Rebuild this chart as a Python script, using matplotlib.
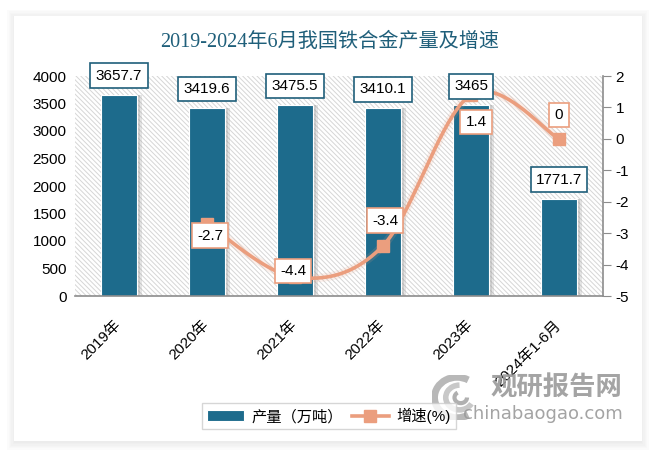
import matplotlib
matplotlib.use("Agg")
import matplotlib.pyplot as plt
import numpy as np
from matplotlib.patches import Rectangle, Arc

plt.rcParams['font.family'] = ['Liberation Sans', 'Noto Sans CJK SC', 'DejaVu Sans']
plt.rcParams['axes.unicode_minus'] = False
plt.rcParams['hatch.linewidth'] = 0.7
plt.rcParams['hatch.color'] = '#d6d6d6'

categories = ['2019年', '2020年', '2021年', '2022年', '2023年', '2024年1-6月']
output = [3657.7, 3419.6, 3475.5, 3410.1, 3465, 1771.7]
growth = [None, -2.7, -4.4, -3.4, 1.4, 0]
output_labels = ['3657.7', '3419.6', '3475.5', '3410.1', '3465', '1771.7']
growth_labels = [None, '-2.7', '-4.4', '-3.4', '1.4', '0']
title = '2019-2024年6月我国铁合金产量及增速'

BAR = '#1d6b8c'
LINE = '#eb9e7e'
DARK = '#1f5f7a'

fig = plt.figure(figsize=(6.59, 4.58), dpi=100)
fig.patch.set_facecolor('white')

# card shadow + card
for k in range(6):
    fig.patches.append(Rectangle((14/659 - k*0.002, 1 - 442/458 - k*0.003 - 0.002),
                                 (628/659) + k*0.004, (426/458) + k*0.006,
                                 transform=fig.transFigure, facecolor='#c8c8c8',
                                 alpha=0.06, edgecolor='none', zorder=-10))
fig.patches.append(Rectangle((14/659, 1 - 441/458), 628/659, 425/458,
                             transform=fig.transFigure, facecolor='white',
                             edgecolor='none', zorder=-9))

ax = fig.add_axes([75/659, 1 - 296/458, 528/659, 220/458])
ax.set_facecolor('none')
ax.add_patch(Rectangle((0, 0), 1, 1, transform=ax.transAxes, facecolor='white',
                       hatch='\\' * 7, edgecolor='#d6d6d6', lw=0, zorder=0))

x = np.arange(len(categories))
w = 0.42
# bar shadows
ax.bar(x + 0.05, output, width=w, color='#9a9a9a', alpha=0.25, zorder=1, linewidth=0)
ax.bar(x + 0.025, output, width=w, color='#9a9a9a', alpha=0.3, zorder=1, linewidth=0)
ax.bar(x, output, width=w, color=BAR, edgecolor='white', linewidth=0.8, zorder=2,
       label='产量（万吨）')

ax.set_xlim(-0.5, len(categories) - 0.5)
ax.set_ylim(0, 4000)
ax.set_yticks(np.arange(0, 4001, 500))
ax.tick_params(axis='y', length=0, labelsize=11, pad=6)
ax.tick_params(axis='x', length=0, pad=10)
ax.set_xticks(x)
ax.set_xticklabels(categories, rotation=45, ha='right', va='center',
                   rotation_mode='anchor', fontsize=11)
for lab in ax.get_xticklabels():
    lab.set_y(-0.06)
for s in ['top', 'left', 'right']:
    ax.spines[s].set_visible(False)
ax.spines['bottom'].set_color('#8c8c8c')
ax.spines['bottom'].set_linewidth(1.2)

ax2 = ax.twinx()
ax2.set_ylim(-5, 2)
ax2.set_yticks(np.arange(-5, 3, 1))
ax2.tick_params(axis='y', length=6, color='#8c8c8c', labelsize=11, pad=3, direction='out')
for s in ['top', 'left', 'bottom']:
    ax2.spines[s].set_visible(False)
ax2.spines['right'].set_color('#8c8c8c')
ax2.spines['right'].set_linewidth(1.2)

# smooth line (uniform Catmull-Rom through the points, like Excel smoothing)
gx = np.array([i for i, g in enumerate(growth) if g is not None], dtype=float)
gy = np.array([g for g in growth if g is not None], dtype=float)
P = np.column_stack([gx, gy])
pts = []
n = len(P)
for i in range(n - 1):
    p0 = P[i - 1] if i > 0 else P[i]
    p1, p2 = P[i], P[i + 1]
    p3 = P[i + 2] if i + 2 < n else P[i + 1]
    c1 = p1 + (p2 - p0) / 6
    c2 = p2 - (p3 - p1) / 6
    t = np.linspace(0, 1, 40)[:, None]
    seg = (1 - t) ** 3 * p1 + 3 * (1 - t) ** 2 * t * c1 + 3 * (1 - t) * t ** 2 * c2 + t ** 3 * p2
    pts.append(seg if i == 0 else seg[1:])
curve = np.vstack(pts)
ax2.plot(curve[:, 0], curve[:, 1], color=LINE, lw=6, alpha=0.15, zorder=3, solid_capstyle='round')
ax2.plot(curve[:, 0], curve[:, 1], color=LINE, lw=2.6, zorder=4)
ax2.plot(gx, gy, linestyle='none', marker='s', markersize=9, color=LINE, zorder=5)
ax2.plot([], [], color=LINE, lw=2.6, marker='s', markersize=8, label='增速(%)')

# growth labels
g_off = {1: (3, -12), 2: (-2, 6), 3: (2, 25), 4: (5, -27), 5: (0, 24)}
for i, (g, lab) in enumerate(zip(growth, growth_labels)):
    if g is None:
        continue
    dx, dy = g_off[i]
    ax2.annotate(lab, xy=(i, g), xytext=(dx * 0.72, dy * 0.72), textcoords='offset points',
                 ha='center', va='center', fontsize=11, zorder=8,
                 bbox=dict(boxstyle='square,pad=0.35', facecolor='white', edgecolor=LINE, lw=1.2))

# bar labels (above the line)
for i, (v, lab) in enumerate(zip(output, output_labels)):
    ax2.annotate(lab, xy=(i, v), xycoords=ax.transData, xytext=(0, 19 * 0.72),
                 textcoords='offset points', ha='center', va='center', fontsize=11, zorder=9,
                 bbox=dict(boxstyle='square,pad=0.35', facecolor='white', edgecolor=DARK, lw=1.2))

fig.text(330/659, 1 - 42/458, title, ha='center', va='center', fontsize=14.5,
         color=DARK, family=['Liberation Serif', 'Noto Sans CJK SC'])

h1, l1 = ax.get_legend_handles_labels()
h2, l2 = ax2.get_legend_handles_labels()
leg = fig.legend(h1 + h2, l1 + l2, loc='center', bbox_to_anchor=(329/659, 1 - 416/458),
                 ncol=2, fontsize=11, frameon=True, fancybox=False, edgecolor='#cccccc',
                 handlelength=2.4, columnspacing=0.6, handletextpad=0.5, borderpad=0.35,
                 borderaxespad=0)
leg.get_frame().set_linewidth(1.0)

# watermark
fig.text(556/659, 1 - 388/458, '观研报告网', ha='center', va='center', fontsize=19,
         fontweight='bold', color='#9a9a9a', family=['Noto Sans CJK SC'], alpha=0.9)
fig.text(543/659, 1 - 414/458, 'chinabaogao.com', ha='center', va='center', fontsize=13,
         color='#9a9a9a', family=['DejaVu Sans'], alpha=0.9)
wax = fig.add_axes([432/659, 1 - 420/458, 50/659, 45/458])
wax.set_xlim(-1, 1); wax.set_ylim(-1, 1); wax.axis('off')
wax.add_patch(Arc((0, 0), 1.8, 1.8, theta1=60, theta2=300, lw=5, color='#b8b8b8'))
wax.add_patch(Arc((0.1, 0), 1.1, 1.1, theta1=90, theta2=330, lw=4, color='#c8c8c8'))
wax.add_patch(Arc((0.15, 0), 0.5, 0.5, theta1=120, theta2=360, lw=3, color='#b0b0b0'))

fig.savefig('out.png', dpi=100)
